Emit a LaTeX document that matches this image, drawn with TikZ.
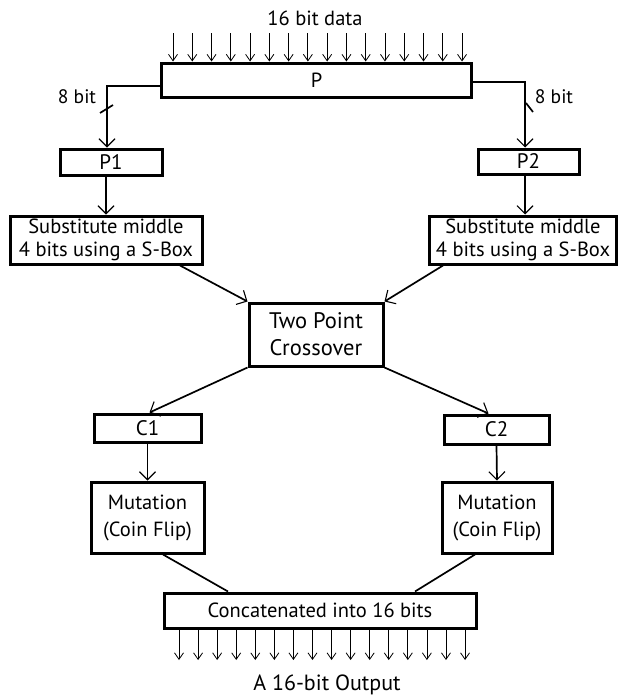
\documentclass[tikz,border=0pt]{standalone}
\usepackage{fontspec}
\setmainfont{PT Sans}
\usetikzlibrary{arrows.meta,calc}

\begin{document}
\begin{tikzpicture}[x=1pt,y=-1pt,
  box/.style={draw, line width=3pt, inner sep=0pt, align=center,
              font=\fontsize{20.5}{27}\selectfont},
  conn/.style={line width=1.7pt, -{Straight Barb[length=8pt,width=16pt,line width=1.1pt]}},
  plain/.style={line width=1.7pt},
  bus/.style={line width=0.8pt, -{Straight Barb[length=6.5pt,width=9pt,line width=0.8pt]}},
  lbl/.style={inner sep=0pt, font=\fontsize{20.5}{22}\selectfont}]
\useasboundingbox (0,0) rectangle (620,696);

% blocks
\node[box, minimum width=310, minimum height=34] (P) at (316.5,80) {P};
\node[box, minimum width=102, minimum height=26, font=\fontsize{21}{23}\selectfont] (P1) at (111,162) {P1};
\node[box, minimum width=101, minimum height=25, font=\fontsize{21}{23}\selectfont] (P2) at (528.5,161.5) {P2};
\node[box, minimum width=192, minimum height=48,
      font=\fontsize{20.5}{23.5}\selectfont] (SubL) at (106,240)
      {Substitute middle\\4 bits using a S-Box};
\node[box, minimum width=187, minimum height=48,
      font=\fontsize{20.5}{23.5}\selectfont] (SubR) at (523,240)
      {Substitute middle\\4 bits using a S-Box};
\node[box, minimum width=134, minimum height=63,
      font=\fontsize{22.5}{27}\selectfont] (Two) at (316,334.5)
      {Two Point\\Crossover};
\node[box, minimum width=107, minimum height=28, font=\fontsize{21}{23}\selectfont] (C1) at (147.5,428) {C1};
\node[box, minimum width=105, minimum height=29, font=\fontsize{21}{23}\selectfont] (C2) at (496.5,429.5) {C2};
\node[box, minimum width=113, minimum height=71] (MutL) at (147.5,517.5)
      {Mutation\\(Coin Flip)};
\node[box, minimum width=110, minimum height=71] (MutR) at (497,517.5)
      {Mutation\\(Coin Flip)};
\node[box, minimum width=312, minimum height=35,
      font=\fontsize{20.5}{22}\selectfont] (Cat) at (320,610.5)
      {Concatenated into 16 bits};

% labels
\node[lbl] (din) at (315,18) {16 bit data};
\node[lbl, font=\fontsize{22}{24}\selectfont] (dout) at (327,685) {A 16-bit Output};
\node[lbl, font=\fontsize{19.5}{21}\selectfont] (bL) at (77,97) {8 bit};
\node[lbl, font=\fontsize{19.5}{21}\selectfont] (bR) at (554,97) {8 bit};

% 16 input lines into P
\foreach \i in {0,...,15} {
  \coordinate (in\i) at (173+19.27*\i,33);
  \draw[bus] (in\i) -- (in\i |- P.north);
}

% split of P into two 8-bit halves
\coordinate (kL) at (107,86);
\coordinate (kR) at (525,82);
\draw[conn] ([yshift=-6pt]P.west) -- (kL) -- (kL |- P1.north);
\draw[conn] ([yshift=-2pt]P.east) -- (kR) -- (kR |- P2.north);
\coordinate (sL) at (106.5,109);
\coordinate (sR) at (529.5,107.5);
\draw[plain] ($(sL)+(-6.5,4)$) -- ($(sL)+(6.5,-4)$);
\draw[plain] ($(sR)+(-3.5,-4.5)$) -- ($(sR)+(3.5,4.5)$);

% halves through the S-boxes
\draw[conn] (P1.south -| SubL.north) -- (SubL.north);
\draw[conn] (P2.south -| kR) -- (SubR.north -| kR);
\draw[conn] ([xshift=74pt]SubL.south) -- (Two.north west);
\draw[conn] ([xshift=-80pt]SubR.south) -- (Two.north east);

% crossover children
\draw[conn] (Two.south west) -- ([xshift=2pt]C1.north);
\draw[conn] (Two.south east) -- ([xshift=-8pt]C2.north);
\draw[conn] (C1.south) -- (MutL.north);
\draw[conn] (C2.south) -- (MutR.north);

% joining the mutated halves
\draw[plain] ([xshift=15.5pt]MutL.south) -- ([xshift=-92pt]Cat.north);
\draw[plain] ([xshift=-22pt]MutR.south) -- ([xshift=95pt]Cat.north);

% 16 output lines
\foreach \i in {0,...,15} {
  \coordinate (out\i) at (179+19.07*\i,660);
  \draw[bus] (out\i |- Cat.south) -- (out\i);
}
\end{tikzpicture}
\end{document}
